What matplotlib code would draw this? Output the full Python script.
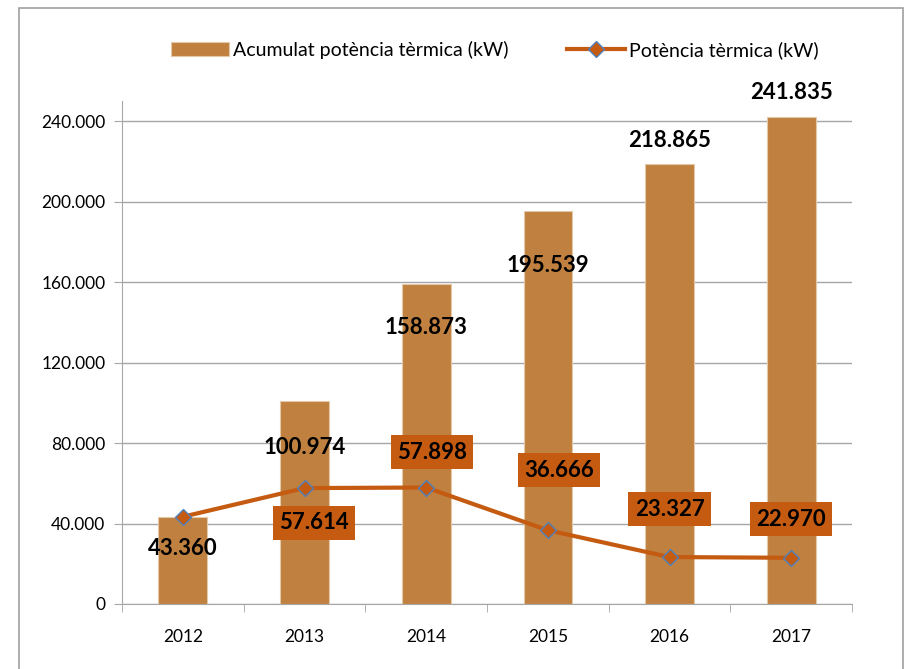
import matplotlib as mp
mp.use("Agg")
import numpy as np
import matplotlib.pyplot as plt
from matplotlib.patches import Rectangle
from matplotlib.ticker import FuncFormatter

years = ["2012", "2013", "2014", "2015", "2016", "2017"]
acumulat = [43360, 100974, 158873, 195539, 218865, 241835]
potencia = [43360, 57614, 57898, 36666, 23327, 22970]

# where the labels sit (data units)
bar_label_y = [27800, 78000, 137600, 168000, 230500, 254000]
line_label_y = [None, 40300, 75500, 66600, 47200, 42200]
line_label_dx = [0, 0.08, 0.05, 0.09, 0.0, 0.0]

bar_col = "#C0803F"
line_col = "#C55A11"
grid_col = "#A6A6A6"
plt.rcParams["font.family"] = ["Lato", "DejaVu Sans"]


def fmt(v):
    return "{:,.0f}".format(v).replace(",", ".")


fig = plt.figure(figsize=(9.07, 6.69), dpi=100)
ax = fig.add_axes([122/907, 1-604/669, 730/907, 503/669])

x = np.arange(len(years))
bars = ax.bar(x, acumulat, width=0.4, color=bar_col, edgecolor="#E3C9A8", lw=0.8,
              label="Acumulat potència tèrmica (kW)", zorder=2)
line, = ax.plot(x, potencia, color=line_col, lw=3, marker="D", ms=8,
                markerfacecolor=line_col, markeredgecolor="#4F81BD", markeredgewidth=1,
                label="Potència tèrmica (kW)", zorder=3)

for i in range(len(years)):
    ax.text(x[i], bar_label_y[i], fmt(acumulat[i]), ha="center", va="center",
            fontsize=16, fontweight="bold", color="black", clip_on=False, zorder=5)
    if line_label_y[i] is not None:
        ax.text(x[i] + line_label_dx[i], line_label_y[i], fmt(potencia[i]),
                ha="center", va="center", fontsize=16, fontweight="bold",
                color="black", zorder=5,
                bbox=dict(boxstyle="square,pad=0.28", fc=line_col, ec="none"))

ax.set_xlim(-0.5, len(years) - 0.5)
ax.set_ylim(0, 250000)
ax.set_yticks(np.arange(0, 240001, 40000))
ax.yaxis.set_major_formatter(FuncFormatter(lambda v, p: fmt(v)))
ax.set_xticks(x)
ax.set_xticklabels(years)
ax.set_xticks(np.arange(-0.5, len(years)), minor=True)
ax.tick_params(axis="x", which="major", length=0, pad=18, labelsize=12.5)
ax.tick_params(axis="x", which="minor", length=6, color=grid_col, direction="out")
ax.tick_params(axis="y", length=6, color=grid_col, labelsize=12.5, pad=6)
ax.grid(axis="y", color=grid_col, lw=1, zorder=0)
ax.set_axisbelow(True)
for s in ["top", "right"]:
    ax.spines[s].set_visible(False)
for s in ["left", "bottom"]:
    ax.spines[s].set_color(grid_col)

ax.legend([bars, line], [bars.get_label(), line.get_label()],
          loc="center", bbox_to_anchor=(495/907, 1-50/669),
          bbox_transform=fig.transFigure, ncol=2, frameon=False, fontsize=14,
          handlelength=3.0, handletextpad=0.2, columnspacing=3.0)

fig.patches.append(Rectangle((19/907, -0.05), 884/907, 1.05 - 8/669,
                             transform=fig.transFigure, fill=False,
                             ec="#A0A0A0", lw=1.2))

fig.savefig("out.png", dpi=100)
